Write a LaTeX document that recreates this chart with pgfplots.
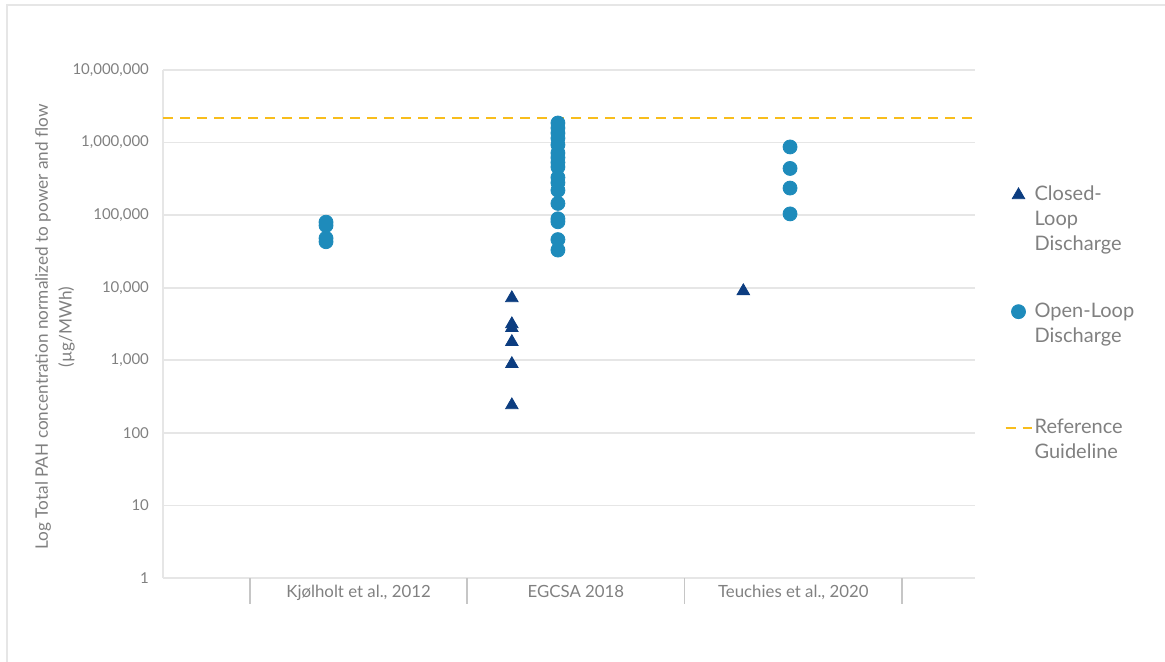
\documentclass[border=0pt]{standalone}
\usepackage{pgfplots}
\pgfplotsset{compat=1.18}
\usepackage{fontspec}
\setmainfont{Lato}
\definecolor{openc}{HTML}{1E8BBB}
\definecolor{closedc}{HTML}{0C3D80}
\definecolor{refc}{HTML}{F8BD1C}
\definecolor{txt}{HTML}{808080}
\definecolor{gridc}{HTML}{E6E6E6}
\begin{document}
\begin{tikzpicture}
\useasboundingbox (0,0) rectangle (582.5pt,331pt);
\draw[gridc, line width=0.6pt] (3.5pt,0pt) -- (3.5pt,328.5pt) -- (582.5pt,328.5pt);
\begin{axis}[
  at={(81.5pt,42pt)}, anchor=south west,
  scale only axis, width=406pt, height=254pt,
  xmin=0.1, xmax=3.836,
  ymode=log, ymin=1, ymax=10000000,
  axis x line*=bottom, axis y line*=left,
  axis line style={draw=gridc, line width=0.8pt},
  ytick={1,10,100,1000,10000,100000,1000000,10000000},
  yticklabels={1,10,100,{1,000},{10,000},{100,000},{1,000,000},{10,000,000}},
  yminorticks=false,
  ymajorgrids, grid style={draw=gridc, line width=0.8pt},
  major tick length=0pt,
  tick align=outside,
  xtick={1,2,3},
  xticklabels={{Kjølholt et al., 2012},{EGCSA 2018},{Teuchies et al., 2020}},
  tick style={draw=none},
  extra x ticks={0.5,1.5,2.5,3.5},
  extra x tick labels={},
  extra x tick style={major tick length=13pt, grid=none,
    tick style={draw=gray!45, line width=0.8pt}},
  yticklabel style={font=\fontsize{7.5}{9}\selectfont, text=txt, xshift=-3.5pt},
  xticklabel style={font=\fontsize{8.4}{9}\selectfont, text=txt},
  ylabel={Log Total PAH concentration normalized to power and flow\\(µg/MWh)},
  ylabel style={at={(axis description cs:-0.133,0.494)}, anchor=center, align=center,
    font=\fontsize{8.6}{11.8}\selectfont, text=txt},
  legend style={at={(axis description cs:1.0357,0.772)}, anchor=north west,
    draw=none, fill=none, inner sep=0pt, row sep=49.5pt, column sep=1pt,
    font=\fontsize{10}{12.5}\selectfont, text=txt, nodes={inner sep=0pt}},
  legend cell align=left,
  legend image code/.code={\draw[mark repeat=2,mark phase=2,#1] plot coordinates {(0pt,0pt)(6.5pt,0pt)(13pt,0pt)};},
  clip=false,
]
\addplot[only marks, mark=triangle*, mark size=3.6pt, color=closedc] coordinates {
(1.705,7200) (1.705,3150) (1.705,2790) (1.705,1790) (1.705,890) (1.705,241)
(2.77,9000)
};
\addlegendentry{\parbox[t]{70pt}{Closed-\\Loop\\Discharge}}
\addplot[only marks, mark=*, mark size=3.5pt, color=openc] coordinates {
(0.85,80000) (0.85,72000) (0.85,48000) (0.85,43000)
(1.917,1860000) (1.917,1590000) (1.917,1350000) (1.917,1150000) (1.917,930000)
(1.917,720000) (1.917,620000) (1.917,530000) (1.917,460000)
(1.917,330000) (1.917,280000) (1.917,220000) (1.917,145000)
(1.917,89000) (1.917,81000) (1.917,46000) (1.917,33000)
(2.985,870000) (2.985,440000) (2.985,236000) (2.985,104000)
};
\addlegendentry{\parbox[t]{70pt}{Open-Loop\\Discharge}}
\addplot[refc, line width=1.1pt, dash pattern=on 5pt off 3.5pt] coordinates {
(0.1,2190000) (3.836,2190000)
};
\addlegendentry{\parbox[t]{70pt}{Reference\\Guideline}}
\end{axis}
\end{tikzpicture}
\end{document}
